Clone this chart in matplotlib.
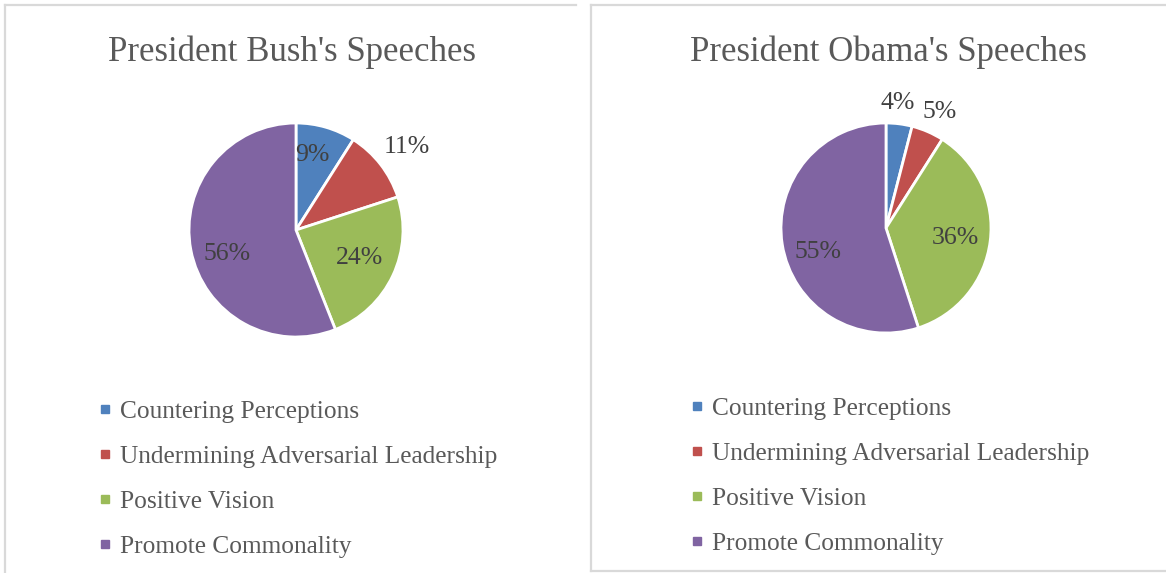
import matplotlib.pyplot as plt
from matplotlib.lines import Line2D

plt.rcParams['font.family'] = ['Liberation Serif', 'DejaVu Serif']

categories = ['Countering Perceptions', 'Undermining Adversarial Leadership',
              'Positive Vision', 'Promote Commonality']
bush_share = [9, 11, 24, 56]
obama_share = [4, 5, 36, 55]
colors = ['#4F81BD', '#C0504D', '#9BBB59', '#8064A2']

# label centres, as (dx, dy) in units of pie radius
bush_label_pos = [(0.15, 0.70), (1.04, 0.78), (0.59, -0.26), (-0.64, -0.22)]
obama_label_pos = [(0.11, 1.19), (0.51, 1.10), (0.66, -0.10), (-0.65, -0.23)]

W, H = 1166, 573
fig = plt.figure(figsize=(W / 100, H / 100), dpi=100)

BORDER = '#D9D9D9'
TEXT = '#595959'


def hline(x0, x1, y):
    fig.add_artist(Line2D([x0 / W, x1 / W], [1 - y / H, 1 - y / H],
                          transform=fig.transFigure, color=BORDER, lw=1.6))


def vline(x, y0, y1):
    fig.add_artist(Line2D([x / W, x / W], [1 - y0 / H, 1 - y1 / H],
                          transform=fig.transFigure, color=BORDER, lw=1.6))


# panel frames
vline(5, 5, 573)
hline(5, 576, 5)
vline(591, 5, 571)
hline(591, 1166, 5)
hline(591, 1166, 571)


def draw_panel(title, shares, label_pos, cx, cy, r, title_x, leg_x, leg_y):
    ax = fig.add_axes([(cx - 1.5 * r) / W, 1 - (cy + 1.5 * r) / H, 3 * r / W, 3 * r / H])
    ax.pie(shares, colors=colors, startangle=90, counterclock=False, radius=1,
           wedgeprops=dict(edgecolor='white', linewidth=2))
    ax.set_xlim(-1.5, 1.5)
    ax.set_ylim(-1.5, 1.5)
    ax.set_aspect('equal')
    ax.axis('off')
    for v, (dx, dy) in zip(shares, label_pos):
        ax.text(dx, dy, f'{v}%', ha='center', va='center', fontsize=18.5, color='#404040')

    fig.text(title_x / W, 1 - 52 / H, title, ha='center', va='center',
             fontsize=25, color=TEXT)

    handles = [Line2D([], [], marker='s', ls='none', markersize=5.5, color=c) for c in colors]
    fig.legend(handles, categories, loc='upper left',
               bbox_to_anchor=(leg_x / W, 1 - leg_y / H), frameon=False,
               fontsize=18.3, handlelength=0.6, handletextpad=0.3,
               labelspacing=0.88, borderpad=0, borderaxespad=0, labelcolor=TEXT)


draw_panel("President Bush's Speeches", bush_share, bush_label_pos,
           296, 230, 107, 292, 97.5, 400)
draw_panel("President Obama's Speeches", obama_share, obama_label_pos,
           886, 228, 105, 888, 689.5, 397)

fig.savefig('out.png', dpi=100)
